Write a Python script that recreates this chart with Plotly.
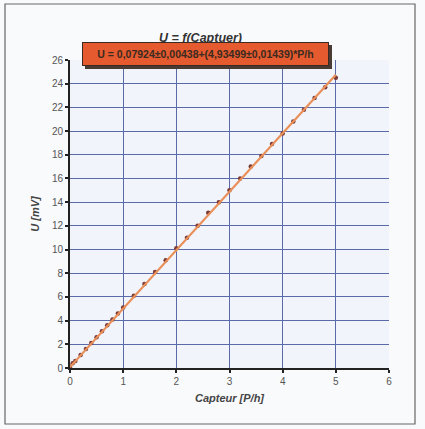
import plotly.graph_objects as go

# ---- data ----
P_VALUES = [0, 0.05, 0.1, 0.2, 0.3, 0.4, 0.5, 0.6, 0.7, 0.8, 0.9, 1.0,
            1.2, 1.4, 1.6, 1.8, 2.0, 2.2, 2.4, 2.6, 2.8, 3.0, 3.2, 3.4,
            3.6, 3.8, 4.0, 4.2, 4.4, 4.6, 4.8, 5.0]
U_VALUES = [0.1, 0.4, 0.6, 1.1, 1.6, 2.1, 2.6, 3.1, 3.6, 4.1, 4.6, 5.1,
            6.1, 7.1, 8.1, 9.1, 10.1, 11.0, 12.0, 13.1, 14.0, 15.0, 16.0, 17.0,
            17.9, 18.9, 19.8, 20.8, 21.8, 22.8, 23.7, 24.5]
FIT_P = [0.0, 5.0]
FIT_U = [0.079, 24.754]
X_TICKS = [0, 1, 2, 3, 4, 5, 6]
X_TICK_LABELS = ["0", "1", "2", "3", "4", "5", "6"]
Y_TICKS = [0, 2, 4, 6, 8, 10, 12, 14, 16, 18, 20, 22, 24, 26]

TITLE = "U = f(Captuer)"
FIT_LABEL = "U = 0,07924±0,00438+(4,93499±0,01439)*P/h"
X_TITLE = "Capteur [P/h]"
Y_TITLE = "U [mV]"

W, H = 425, 429
L, R, T, B = 70, 36, 60, 61
PW, PH = W - L - R, H - T - B


def px_to_paper_x(px):
    return (px - L) / PW


def px_to_paper_y(py):
    return (H - B - py) / PH


fig = go.Figure()
fig.add_trace(go.Scatter(
    x=P_VALUES, y=U_VALUES, mode="markers",
    marker=dict(size=4.5, color="#7a3a36", line=dict(width=0)),
    showlegend=False, hoverinfo="x+y"))
fig.add_trace(go.Scatter(
    x=FIT_P, y=FIT_U, mode="lines",
    line=dict(color="#e9905a", width=2.2),
    showlegend=False))

font_family = "Liberation Sans, Arial, sans-serif"

fig.update_layout(
    width=W, height=H,
    margin=dict(l=L, r=R, t=T, b=B, pad=0),
    paper_bgcolor="#f9fafc",
    plot_bgcolor="#f1f4fa",
    font=dict(family=font_family, color="#444"),
    showlegend=False,
    xaxis=dict(
        range=[0, 6], tickvals=X_TICKS, ticktext=X_TICK_LABELS,
        showgrid=True, gridcolor="#5a6aa8", gridwidth=1,
        zeroline=False, showline=True, linecolor="#222", linewidth=2,
        ticks="outside", ticklen=3, tickcolor="#222", tickwidth=1.5,
        tickfont=dict(size=10, color="#555"),
        title=dict(text="<b><i>" + X_TITLE + "</i></b>",
                   font=dict(size=11, color="#444"), standoff=8),
        fixedrange=True,
    ),
    yaxis=dict(
        range=[0, 26], tickvals=Y_TICKS,
        showgrid=True, gridcolor="#5a6aa8", gridwidth=1,
        zeroline=False, showline=True, linecolor="#222", linewidth=2,
        ticks="outside", ticklen=3, tickcolor="#222", tickwidth=1.5,
        tickfont=dict(size=10, color="#555"),
        title=dict(text="<b><i>" + Y_TITLE + "</i></b>",
                   font=dict(size=11, color="#444"), standoff=10),
        fixedrange=True,
    ),
)

# outer frame of the chart
fig.add_shape(type="rect", xref="paper", yref="paper",
              x0=px_to_paper_x(5), x1=px_to_paper_x(415),
              y0=px_to_paper_y(424), y1=px_to_paper_y(4),
              line=dict(color="#666", width=1.2), layer="below")

# title
fig.add_annotation(xref="paper", yref="paper",
                   x=px_to_paper_x(200), y=px_to_paper_y(38),
                   text="<b><i>" + TITLE + "</i></b>", showarrow=False,
                   font=dict(size=12.5, color="#333", family=font_family),
                   xanchor="center", yanchor="middle")

# shadow of fit label box
bx0, bx1, by0, by1 = 82, 329, 42, 66
fig.add_shape(type="rect", xref="paper", yref="paper",
              x0=px_to_paper_x(bx0 + 3), x1=px_to_paper_x(bx1 + 3),
              y0=px_to_paper_y(by1 + 3), y1=px_to_paper_y(by0 + 3),
              fillcolor="#4a3a34", line=dict(width=0), layer="above")

fig.add_annotation(xref="paper", yref="paper",
                   x=px_to_paper_x((bx0 + bx1) / 2), y=px_to_paper_y((by0 + by1) / 2),
                   text="<b>" + FIT_LABEL + "</b>", showarrow=False,
                   font=dict(size=10.5, color="#3a2a20", family=font_family),
                   bgcolor="#e55a2e", bordercolor="#3a2a22", borderwidth=1,
                   width=bx1 - bx0 - 4, height=by1 - by0 - 4,
                   xanchor="center", yanchor="middle", align="center")

fig.write_html("out.html")
